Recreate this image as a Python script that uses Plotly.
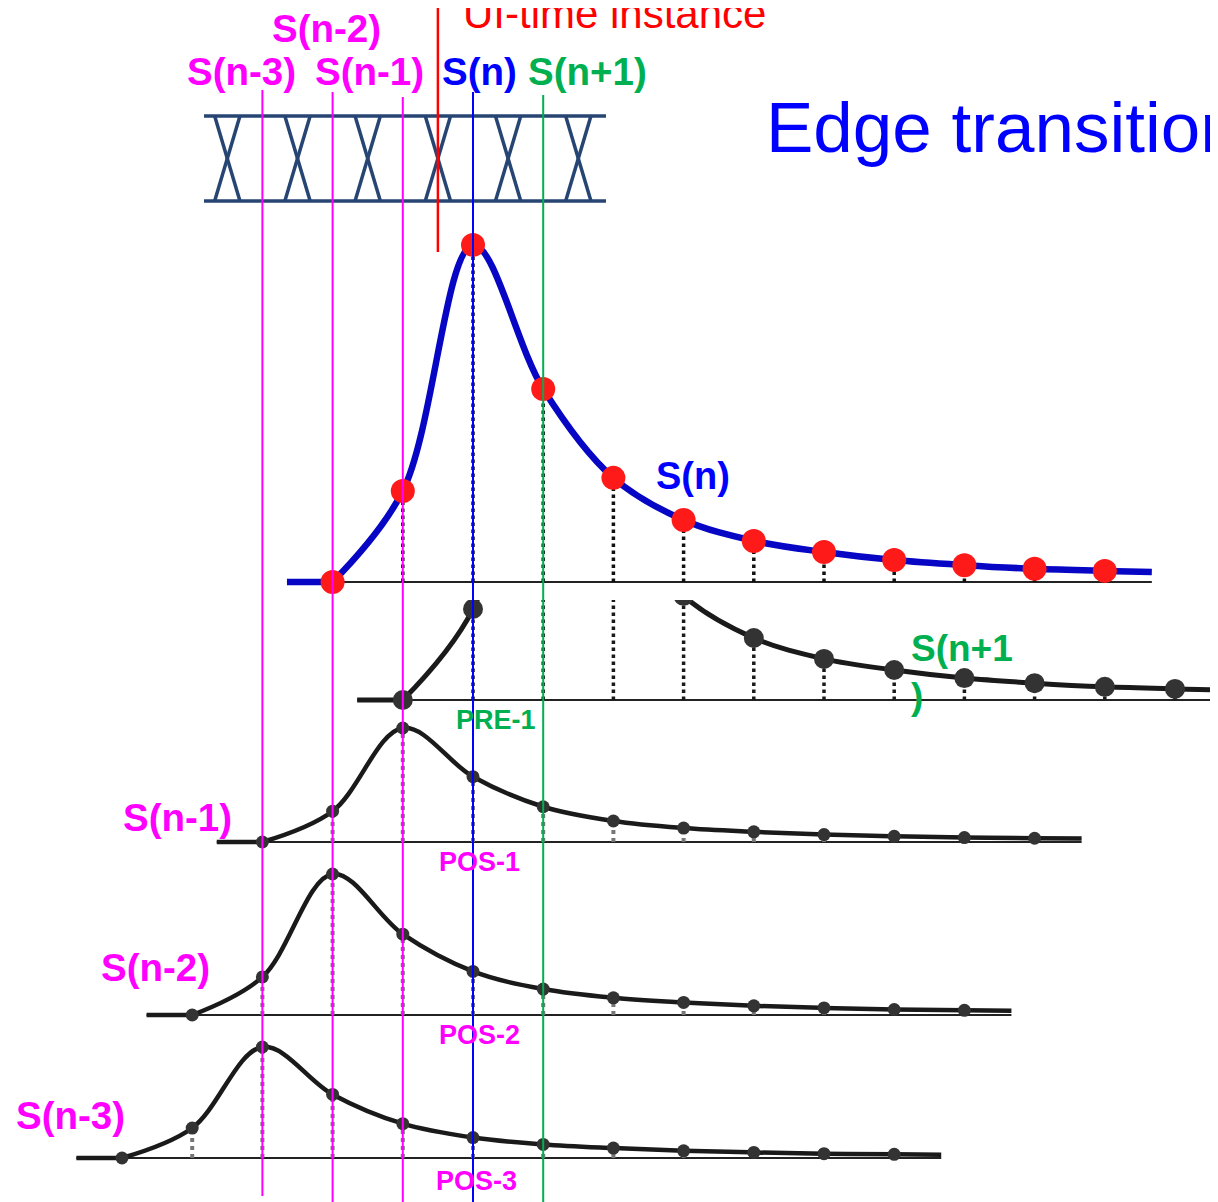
import plotly.graph_objects as go

# ---------------- data ----------------
# single-bit response sampled once per UI, offsets relative to the pulse cursor
PULSE_OFFSETS = [-2, -1, 0, 1, 2, 3, 4, 5, 6, 7, 8, 9]
PULSE_VALUES = [0.0, 0.27, 1.0, 0.573, 0.309, 0.184, 0.122, 0.089, 0.065, 0.050, 0.039, 0.033]
CURVE_START = [-2.65, 0.0]   # leading flat part of the drawn response (UI offset, value)
CURVE_END = [9.67, 0.030]    # trailing end of the drawn response

# cursors (UI position of each symbol's main sample)
SERIES = ["S(n)", "S(n+1)", "S(n-1)", "S(n-2)", "S(n-3)"]
SERIES_CURSOR = [0, 1, -1, -2, -3]

CURSOR_LABELS = ["S(n-3)", "S(n-2)", "S(n-1)", "S(n)", "S(n+1)"]
CURSOR_UI = [-3, -2, -1, 0, 1]

EYE_CROSSINGS = [-3.5, -2.5, -1.5, -0.5, 0.5, 1.5]
UI_TIME = -0.5

TAP_LABELS = ["PRE-1", "POS-1", "POS-2", "POS-3"]
SIDE_LABELS = ["S(n-1)", "S(n-2)", "S(n-3)"]

# ---------------- layout constants ----------------
# the html page has an 8px body margin, so the figure is drawn 8px in from the corner
OFF = 8
REF_W, REF_H = 1218, 1202
W, H = REF_W - OFF, REF_H - OFF
X0, UI_PX = 473.0, 70.2


def px2u(x):
    return (x - X0) / UI_PX


def ppx(x):
    return (x - OFF) / W


def ppy(y):
    return 1 - (y - OFF) / H


MAG = "#FF00FF"
BLUE = "#0000FF"
GREEN = "#00B050"
RED = "#FF0000"
EYE = "#264573"
FONT = "Liberation Sans, Arial, sans-serif"

PANELS = {
    "S(n)": dict(base=582, amp=337, top=215, bot=600, line="#0606C4", lw=6.5,
                 dot="#FF1A1A", ds=24, stem="#111111", sw=3.5),
    "S(n+1)": dict(base=700, amp=337, top=600, bot=713, line="#1A1A1A", lw=5,
                   dot="#333333", ds=20, stem="#1A1A1A", sw=3.5),
    "S(n-1)": dict(base=842, amp=114, top=716, bot=852, line="#1A1A1A", lw=4.5,
                   dot="#333333", ds=13, stem="#777777", sw=4),
    "S(n-2)": dict(base=1015, amp=141, top=862, bot=1025, line="#1A1A1A", lw=4.5,
                   dot="#333333", ds=13, stem="#777777", sw=4),
    "S(n-3)": dict(base=1158, amp=111, top=1032, bot=1168, line="#1A1A1A", lw=4.5,
                   dot="#333333", ds=13, stem="#777777", sw=4),
}

fig = go.Figure()
layout = dict(
    width=W, height=H, margin=dict(l=0, r=0, t=0, b=0),
    paper_bgcolor="white", plot_bgcolor="rgba(0,0,0,0)", showlegend=False,
    xaxis=dict(range=[px2u(OFF), px2u(REF_W)], domain=[0, 1], visible=False, fixedrange=True),
    yaxis=dict(range=[REF_H, OFF], domain=[0, 1], visible=False, fixedrange=True),
)

# ---------------- eye diagram (base pixel axis) ----------------
eye_left, eye_right = px2u(204), px2u(606)
eye_top, eye_bot = 116, 201
half = 0.18
ex, ey = [], []
for yy in (eye_top, eye_bot):
    ex += [eye_left, eye_right, None]
    ey += [yy, yy, None]
for c in EYE_CROSSINGS:
    ex += [c - half, c + half, None, c + half, c - half, None]
    ey += [eye_top, eye_bot, None, eye_top, eye_bot, None]
fig.add_trace(go.Scatter(x=ex, y=ey, mode="lines", line=dict(color=EYE, width=3.5),
                         xaxis="x", yaxis="y", hoverinfo="skip"))

# ---------------- pulse panels ----------------
for i, (name, cur) in enumerate(zip(SERIES, SERIES_CURSOR)):
    p = PANELS[name]
    ax = f"y{i + 2}"
    layout[f"yaxis{i + 2}"] = dict(
        domain=[ppy(p["bot"]), ppy(p["top"])],
        range=[(p["base"] - p["bot"]) / p["amp"], (p["base"] - p["top"]) / p["amp"]],
        visible=False, fixedrange=True, anchor="x")
    xs = [cur + o for o in PULSE_OFFSETS]
    # baseline
    fig.add_trace(go.Scatter(x=[cur + CURVE_START[0], cur + CURVE_END[0]], y=[0, 0],
                             mode="lines", line=dict(color="#222222", width=2.2),
                             xaxis="x", yaxis=ax, hoverinfo="skip"))
    # dotted stems
    sx, sy = [], []
    for x, v in zip(xs, PULSE_VALUES):
        if v > 0:
            sx += [x, x, None]
            sy += [0, v, None]
    fig.add_trace(go.Scatter(x=sx, y=sy, mode="lines",
                             line=dict(color=p["stem"], width=p["sw"], dash="dot"),
                             xaxis="x", yaxis=ax, hoverinfo="skip"))
    # flat lead-in of the response
    fig.add_trace(go.Scatter(x=[cur + CURVE_START[0], xs[0]], y=[CURVE_START[1], PULSE_VALUES[0]],
                             mode="lines", line=dict(color=p["line"], width=p["lw"]),
                             xaxis="x", yaxis=ax, hoverinfo="skip"))
    # response curve
    cx = xs + [cur + CURVE_END[0]]
    cy = PULSE_VALUES + [CURVE_END[1]]
    fig.add_trace(go.Scatter(x=cx, y=cy, mode="lines",
                             line=dict(color=p["line"], width=p["lw"], shape="spline", smoothing=1.0),
                             xaxis="x", yaxis=ax, hoverinfo="skip"))
    # samples
    fig.add_trace(go.Scatter(x=xs, y=PULSE_VALUES, mode="markers",
                             marker=dict(color=p["dot"], size=p["ds"], symbol="circle", line=dict(width=0)),
                             xaxis="x", yaxis=ax, hoverinfo="skip"))

# ---------------- cursor lines ----------------
shapes = []
vl_colors = [MAG, MAG, MAG, BLUE, GREEN]
vl_top = [90, 92, 97, 92, 95]
vl_bot = [1196, 1202, 1202, 1202, 1202]
for u, col, t, b in zip(CURSOR_UI, vl_colors, vl_top, vl_bot):
    shapes.append(dict(type="line", xref="x", yref="y", x0=u, x1=u, y0=t, y1=b,
                       line=dict(color=col, width=2), layer="above"))
shapes.append(dict(type="line", xref="x", yref="y", x0=UI_TIME, x1=UI_TIME, y0=OFF, y1=252,
                   line=dict(color=RED, width=2.5), layer="above"))
layout["shapes"] = shapes

# ---------------- text ----------------
ann = []


def add_text(text, x, y, size, color, bold=True, xanchor="center", align="center"):
    ann.append(dict(text=f"<b>{text}</b>" if bold else text, x=ppx(x), y=ppy(y),
                    xref="paper", yref="paper", xanchor=xanchor, yanchor="middle",
                    align=align, showarrow=False,
                    font=dict(family=FONT, size=size, color=color)))


top_pos = {"S(n-3)": (241, 72), "S(n-2)": (326, 28), "S(n-1)": (369, 72),
           "S(n)": (479, 72), "S(n+1)": (587, 72)}
top_col = {"S(n-3)": MAG, "S(n-2)": MAG, "S(n-1)": MAG, "S(n)": BLUE, "S(n+1)": GREEN}
for lab in CURSOR_LABELS:
    add_text(lab, *top_pos[lab], 38.5, top_col[lab])

add_text("UI-time instance", 461, 13, 42, RED, bold=False, xanchor="left")
add_text("Edge transition", 764, 128, 71, BLUE, bold=False, xanchor="left")
add_text("S(n)", 693, 476, 38, BLUE)
ann.append(dict(text="<b>S(n+1<br>)</b>", x=ppx(909), y=ppy(672), xref="paper", yref="paper",
                xanchor="left", yanchor="middle", align="left", showarrow=False,
                font=dict(family=FONT, size=37, color=GREEN)))

tap_pos = [(496, 720), (479, 862), (479, 1035), (476, 1181)]
tap_col = [GREEN, MAG, MAG, MAG]
for lab, (x, y), col in zip(TAP_LABELS, tap_pos, tap_col):
    add_text(lab, x, y, 27, col)

side_pos = [(177, 817), (155, 967), (70, 1115)]
for lab, (x, y) in zip(SIDE_LABELS, side_pos):
    add_text(lab, x, y, 38.5, MAG)

layout["annotations"] = ann
fig.update_layout(**layout)
fig.write_html("out.html")
